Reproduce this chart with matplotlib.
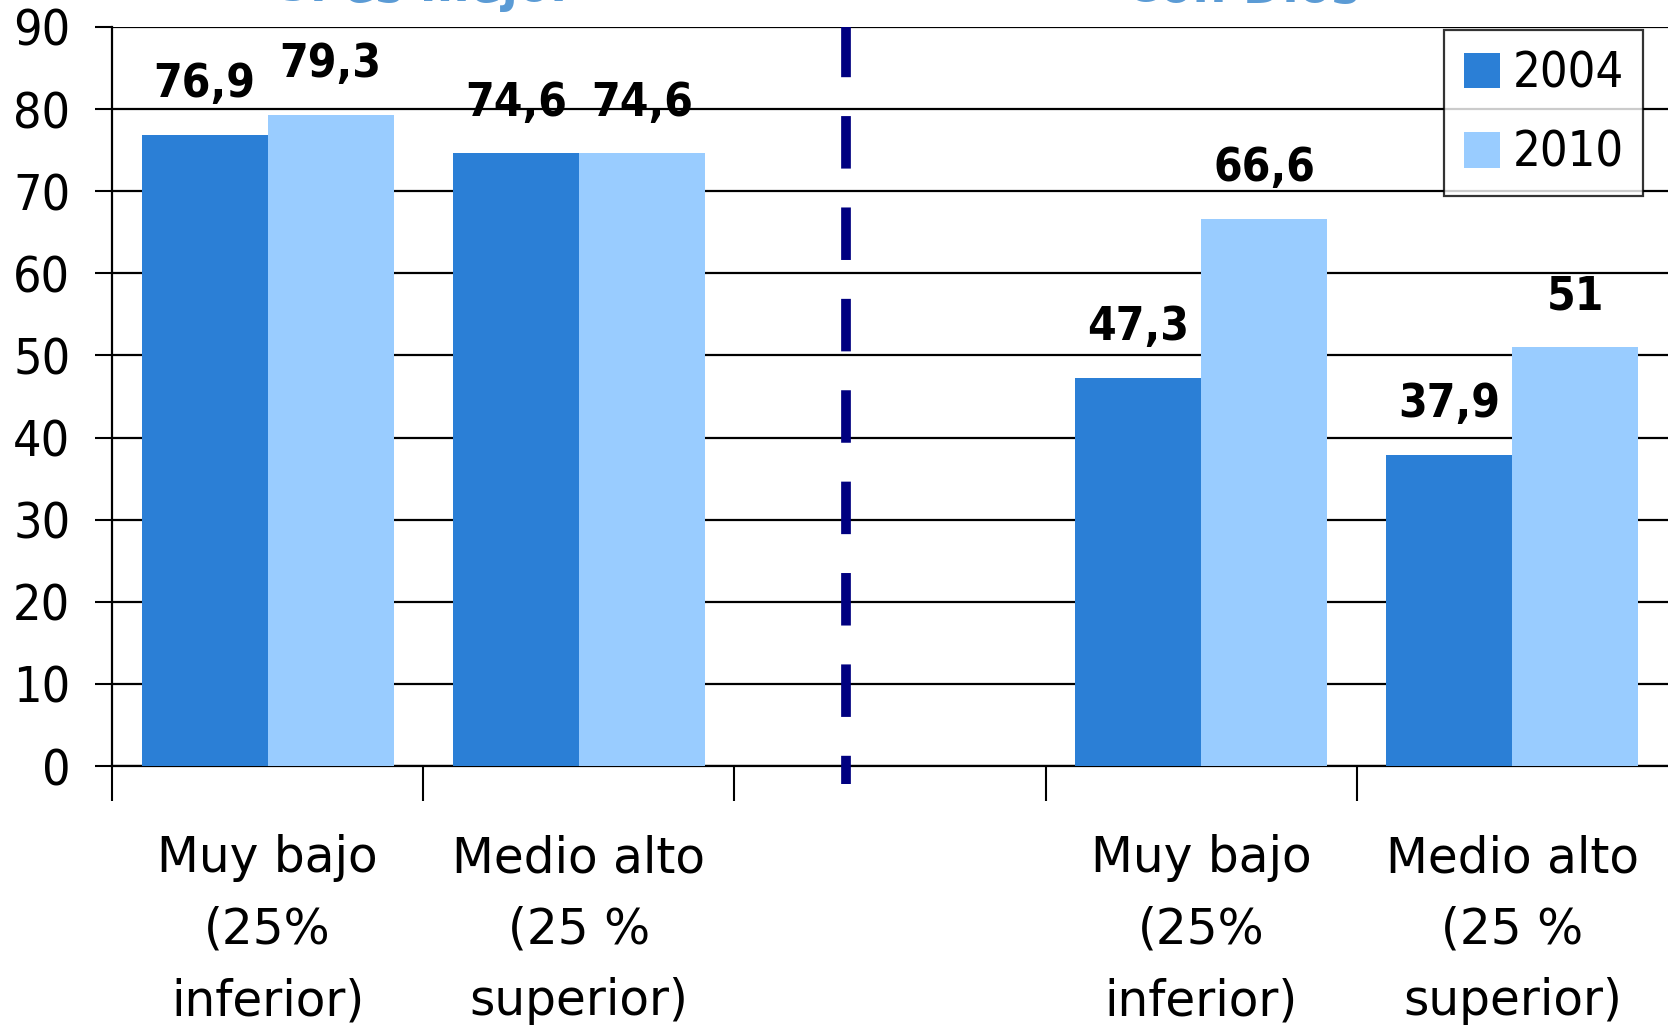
import matplotlib
matplotlib.use("Agg")
import matplotlib.pyplot as plt
import numpy as np
from matplotlib import font_manager

# data
categories = ["Muy bajo\n(25%\ninferior)", "Medio alto\n(25 %\nsuperior)", "",
              "Muy bajo\n(25%\ninferior)", "Medio alto\n(25 %\nsuperior)"]
vals_2004 = [76.9, 74.6, None, 47.3, 37.9]
vals_2010 = [79.3, 74.6, None, 66.6, 51.0]
labels_2004 = ["76,9", "74,6", "", "47,3", "37,9"]
labels_2010 = ["79,3", "74,6", "", "66,6", "51"]
group_titles = ["Sí es mejor", "Con Dios"]
years = ["2004", "2010"]

c2004 = "#2B7FD6"
c2010 = "#99CCFF"

names = {f.name for f in font_manager.fontManager.ttflist}
base = "Liberation Sans Narrow" if "Liberation Sans Narrow" in names else "DejaVu Sans"
plt.rcParams["font.family"] = [base, "DejaVu Sans"]
# use the condensed face if the system has one
plt.rcParams["font.stretch"] = "condensed"

W, H = 1668, 1031
fig = plt.figure(figsize=(W / 100, H / 100), dpi=100)
ax = fig.add_axes([112 / W, 1 - 766 / H, (W - 112) / W, (766 - 27) / H])

x = np.arange(len(categories))
bw = 0.405
for i in range(len(categories)):
    if vals_2004[i] is None:
        continue
    ax.bar(x[i] - bw / 2, vals_2004[i], bw, color=c2004, zorder=3,
           label=years[0] if i == 0 else None)
    ax.bar(x[i] + bw / 2, vals_2010[i], bw, color=c2010, zorder=3,
           label=years[1] if i == 0 else None)
    ax.annotate(labels_2004[i], (x[i] - bw / 2, vals_2004[i]), xytext=(0, 20),
                textcoords="offset points", ha="center", va="bottom",
                fontsize=33, fontweight="bold")
    ax.annotate(labels_2010[i], (x[i] + bw / 2, vals_2010[i]), xytext=(0, 20),
                textcoords="offset points", ha="center", va="bottom",
                fontsize=33, fontweight="bold")

ax.set_xlim(-0.5, len(categories) - 0.5)
ax.set_ylim(0, 90)
ax.set_yticks(np.arange(0, 91, 10))
ax.yaxis.grid(True, color="black", linewidth=1.6, zorder=0)
ax.set_axisbelow(True)

ax.set_xticks(np.arange(-0.5, len(categories) - 0.5, 1.0))
ax.set_xticklabels([])
ax.set_xticks(x, minor=True)
ax.set_xticklabels(categories, minor=True, fontsize=35, linespacing=1.62,
                   fontstretch="normal")
ax.tick_params(axis="x", which="major", length=25, width=1.5, direction="out")
ax.tick_params(axis="x", which="minor", length=0, pad=49)
ax.tick_params(axis="y", length=12, width=1.5, labelsize=36, pad=18)

for s in ["top", "right"]:
    ax.spines[s].set_visible(False)
for s in ["left", "bottom"]:
    ax.spines[s].set_linewidth(1.6)

# dashed separator between groups
ax.plot([1.86, 1.86], [-2.2, 90], color="#000080", linewidth=7,
        linestyle=(2.5, (5.4, 4.0)), clip_on=False, zorder=4)

leg = ax.legend(loc="upper right", bbox_to_anchor=(0.984, 0.996), fontsize=35,
                frameon=True, fancybox=False, edgecolor="black",
                handlelength=0.75, handleheight=0.75, handletextpad=0.25,
                borderpad=0.4, labelspacing=0.65, borderaxespad=0)
leg.get_frame().set_linewidth(1.6)

# group titles, clipped at the top edge
fig.text(425 / W, 1 - 1.5 / H, group_titles[0], ha="center", va="baseline",
         fontsize=38, fontweight="bold", color="#5B9BD5")
fig.text(1242 / W, 1 - 1.5 / H, group_titles[1], ha="center", va="baseline",
         fontsize=38, fontweight="bold", color="#5B9BD5")

fig.savefig("out.png", dpi=100)
